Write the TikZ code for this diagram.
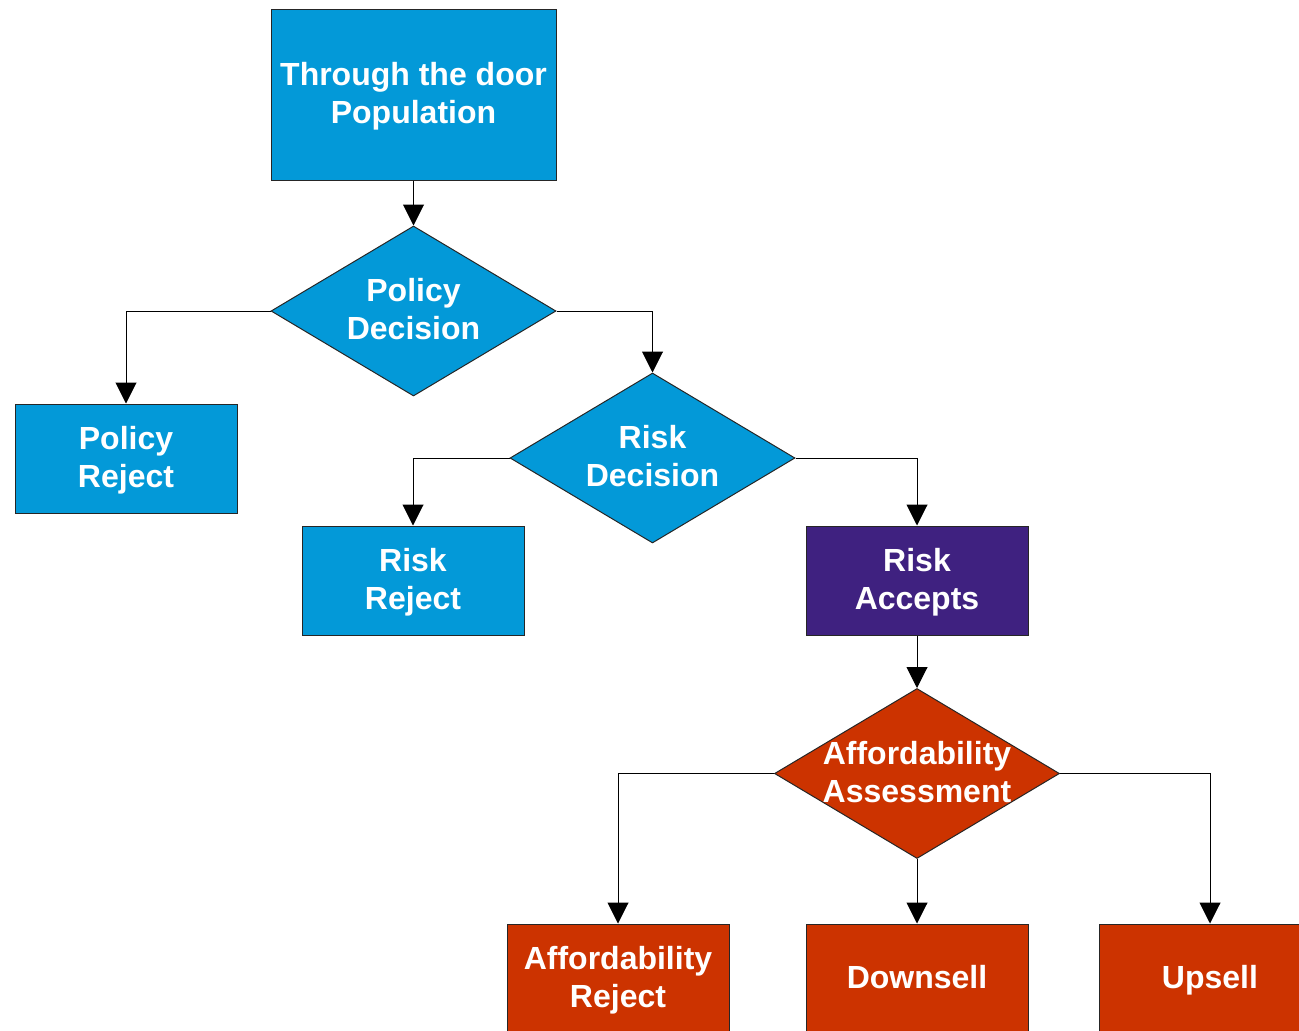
\documentclass[tikz,border=0pt]{standalone}
\usepackage{fontspec}
\setmainfont{Liberation Sans}
\usetikzlibrary{shapes.geometric,arrows.meta}
\definecolor{cblue}{HTML}{0399D8}
\definecolor{cpurple}{HTML}{3F2180}
\definecolor{cred}{HTML}{CC3300}
\begin{document}
\begin{tikzpicture}[x=1pt,y=-1pt,
  lbl/.style={text=white,font=\fontsize{32}{38}\selectfont\bfseries,align=center},
  boxr/.style={lbl,draw=black!85,line width=1pt,minimum width=222pt,minimum height=109pt,inner sep=0pt,text depth=4pt},
  dia/.style={draw=black!85,line width=1pt,diamond,minimum width=285pt,minimum height=170pt,inner sep=0pt},
  arr/.style={draw=black,line width=1pt,-{Triangle[width=21pt,length=21pt]}}]
\useasboundingbox (0,0) rectangle (1299,1031);
\clip (0,0) rectangle (1299,1031);
\node[boxr,fill=cblue,minimum width=285pt,minimum height=171pt] (top) at (413.5,94.5) {Through the door\\Population};
\node[dia,fill=cblue] (pd) at (413.5,311) {};
\node[lbl] (pdt) at (413.5,309.5) {Policy\\Decision};
\node[boxr,fill=cblue] (pr) at (126,458.5) {Policy\\Reject};
\node[dia,fill=cblue] (rd) at (652.5,458) {};
\node[lbl] (rdt) at (652.5,456.5) {Risk\\Decision};
\node[boxr,fill=cblue] (rr) at (413,580.5) {Risk\\Reject};
\node[boxr,fill=cpurple] (ra) at (917,580.5) {Risk\\Accepts};
\node[dia,fill=cred] (aa) at (917,773.5) {};
\node[lbl] (aat) at (917,772.5) {Affordability\\Assessment};
\node[boxr,fill=cred] (ar) at (618,978.5) {Affordability\\Reject};
\node[boxr,fill=cred] (ds) at (917,978.5) {Downsell};
\node[boxr,fill=cred] (us) at (1210,978.5) {Upsell};
\draw[arr] (top.south) -- (pd.north);
\draw[arr] (pd.west) -| (pr.north);
\draw[arr] (pd.east) -| (rd.north);
\draw[arr] (rd.west) -| (rr.north);
\draw[arr] (rd.east) -| (ra.north);
\draw[arr] (ra.south) -- (aa.north);
\draw[arr] (aa.west) -| (ar.north);
\draw[arr] (aa.south) -- (ds.north);
\draw[arr] (aa.east) -| (us.north);
\end{tikzpicture}
\end{document}
